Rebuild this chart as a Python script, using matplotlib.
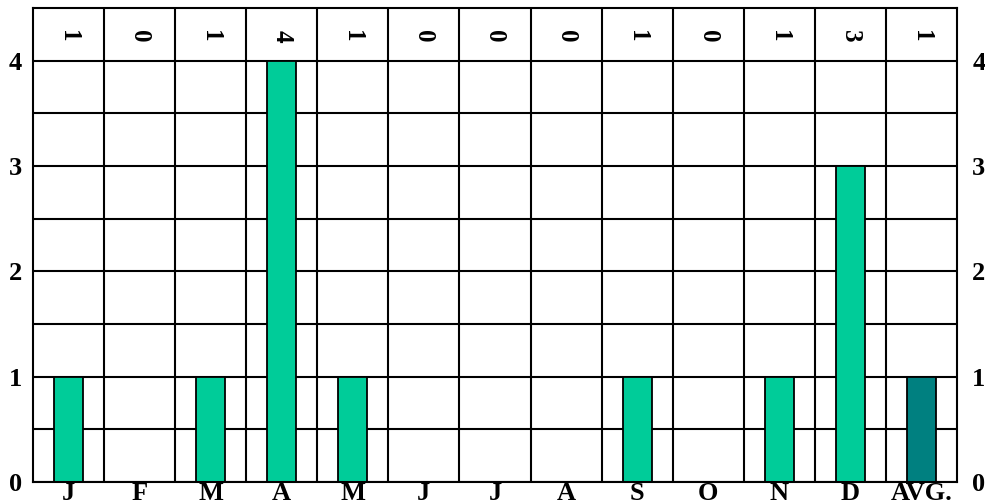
import numpy as np
import matplotlib.pyplot as plt

months = ["J", "F", "M", "A", "M", "J", "J", "A", "S", "O", "N", "D", "AVG."]
counts = [1, 0, 1, 4, 1, 0, 0, 0, 1, 0, 1, 3, 1]
y_ticks = [0, 1, 2, 3, 4]

green = "#00CC99"
teal = "#008080"

plt.rcParams['font.family'] = ['Liberation Serif', 'DejaVu Serif']
plt.rcParams['font.weight'] = 'bold'

fig = plt.figure(figsize=(9.85, 5.04), dpi=100)
ax = fig.add_axes([33 / 985, 22 / 504, 924 / 985, 474 / 504])

x = np.arange(len(months))
colors = [green] * (len(months) - 1) + [teal]
ax.bar(x, counts, width=0.41, color=colors, edgecolor="black", linewidth=1.3, zorder=3)

# values written in the top row
for i, c in enumerate(counts):
    ax.text(i, 4.23, str(c), rotation=270, ha="center", va="center",
            fontsize=18, fontweight="bold")

ax.set_xlim(-0.5, len(months) - 0.5)
ax.set_ylim(0, 4.5)

ax.set_xticks(x)
ax.set_xticklabels(months, fontsize=19, fontweight="bold")
ax.set_xticks(np.arange(0.5, len(months) - 1), minor=True)
ax.set_yticks(y_ticks)
ax.set_yticklabels([str(v) for v in y_ticks], fontsize=19, fontweight="bold")
ax.set_yticks(np.arange(0.5, 4.5, 1.0), minor=True)

ax.tick_params(axis="both", which="both", length=0)
ax.tick_params(axis="x", pad=0)
ax.tick_params(axis="y", pad=8)

# same labels on the right side, a bit further out
right = ax.secondary_yaxis("right")
right.set_yticks(y_ticks)
right.set_yticklabels([str(v) for v in y_ticks], fontsize=19, fontweight="bold")
right.tick_params(length=0, pad=11)
right.spines["right"].set_visible(False)

ax.grid(True, which="minor", axis="x", color="black", linewidth=1.5, zorder=1)
ax.grid(True, which="both", axis="y", color="black", linewidth=1.5, zorder=1)
ax.set_axisbelow(True)
for s in ax.spines.values():
    s.set_linewidth(1.5)
    s.set_zorder(4)

fig.savefig("out.png", dpi=100)
